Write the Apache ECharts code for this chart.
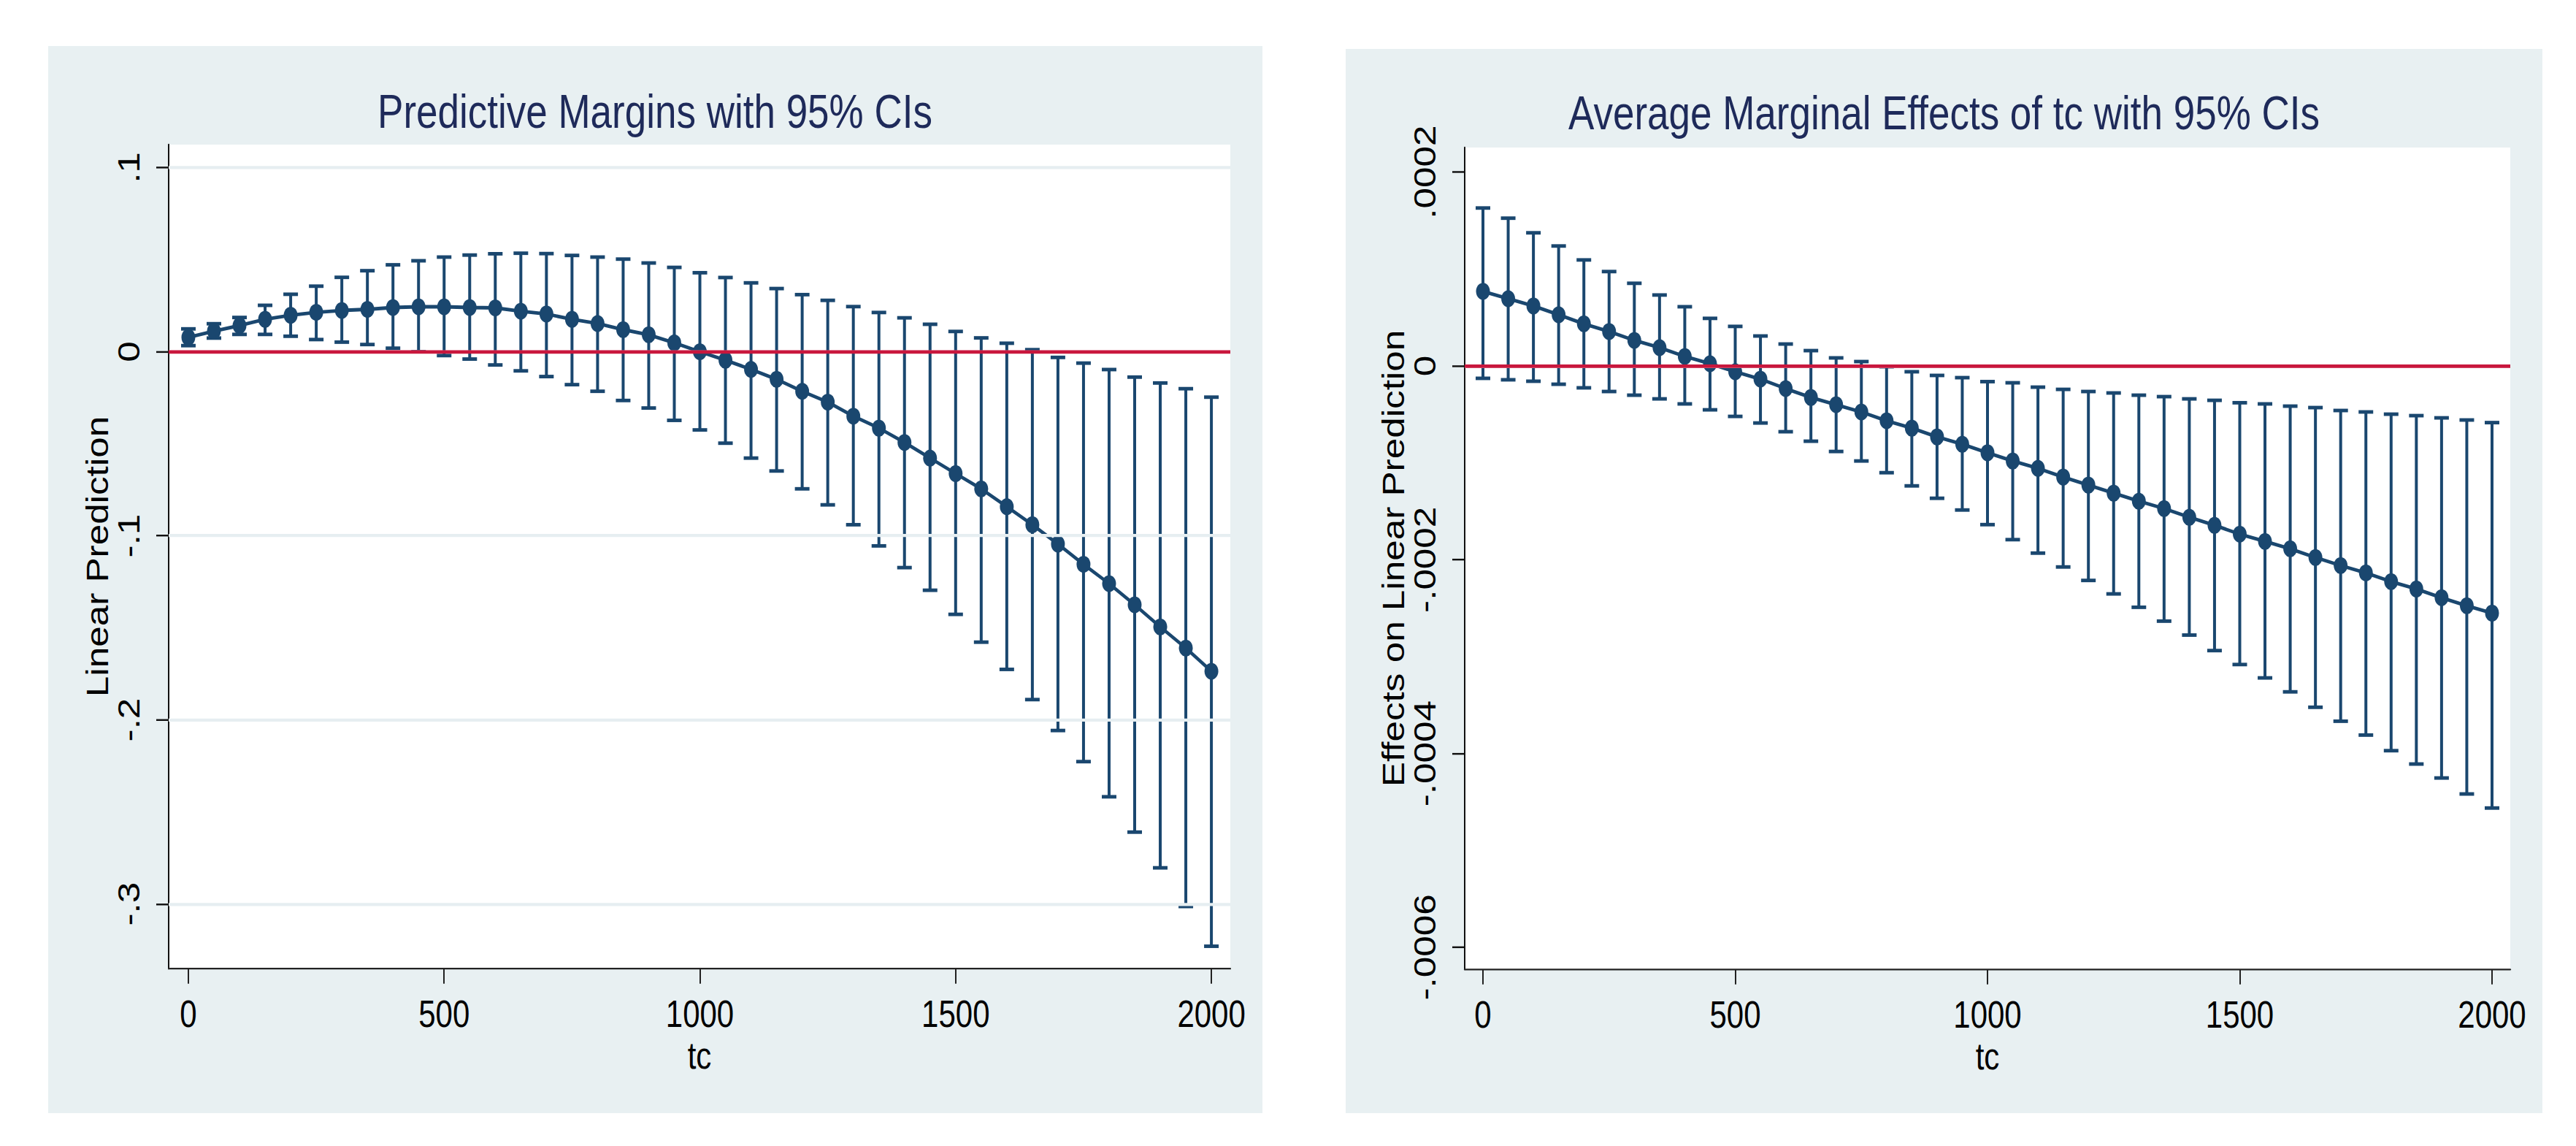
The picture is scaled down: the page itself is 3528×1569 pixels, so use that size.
<!DOCTYPE html>
<html>
<head>
<meta charset="utf-8">
<script src="https://cdn.jsdelivr.net/npm/echarts@6/dist/echarts.min.js"></script>
<style>
html,body{margin:0;padding:0;background:#ffffff;}
#wrap{width:3528px;height:1569px;overflow:hidden;position:relative;background:#ffffff;}
#chart{width:3528px;height:1286px;transform:scaleY(1.22);transform-origin:0 0;}
</style>
</head>
<body>
<div id="wrap"><div id="chart"></div></div>
<script>
// ---------------- data ----------------
const tc = [0, 50, 100, 150, 200, 250, 300, 350, 400, 450, 500, 550, 600, 650, 700, 750, 800, 850, 900, 950,
  1000, 1050, 1100, 1150, 1200, 1250, 1300, 1350, 1400, 1450, 1500, 1550, 1600, 1650, 1700, 1750, 1800, 1850, 1900, 1950, 2000];

// Panel 1: Predictive margins (linear prediction) with 95% CI
const pmEstimate = [0.0078, 0.0112, 0.0142, 0.0176, 0.0198, 0.0214, 0.0224, 0.0230, 0.0240, 0.0244,
  0.0244, 0.0240, 0.0238, 0.0220, 0.0205, 0.0176, 0.0153, 0.0120, 0.0092, 0.0048,
  0.0000, -0.0046, -0.0096, -0.0150, -0.0215, -0.0274, -0.0350, -0.0415, -0.0493, -0.0578,
  -0.0662, -0.0745, -0.0842, -0.0940, -0.1045, -0.1155, -0.1260, -0.1375, -0.1495, -0.1610, -0.1736];
const pmUpper = [0.0124, 0.0152, 0.0186, 0.0252, 0.0312, 0.0356, 0.0404, 0.0440, 0.0472, 0.0494,
  0.0514, 0.0525, 0.0532, 0.0535, 0.0533, 0.0523, 0.0514, 0.0503, 0.0482, 0.0458,
  0.0429, 0.0403, 0.0374, 0.0343, 0.0310, 0.0279, 0.0245, 0.0213, 0.0184, 0.0149,
  0.0110, 0.0075, 0.0046, 0.0011, -0.0031, -0.0062, -0.0097, -0.0138, -0.0170, -0.0201, -0.0247];
const pmLower = [0.0033, 0.0074, 0.0094, 0.0094, 0.0084, 0.0066, 0.0052, 0.0039, 0.0019, 0.0000,
  -0.0021, -0.0040, -0.0072, -0.0104, -0.0135, -0.0179, -0.0215, -0.0265, -0.0306, -0.0373,
  -0.0425, -0.0497, -0.0578, -0.0648, -0.0745, -0.0832, -0.0940, -0.1055, -0.1173, -0.1296,
  -0.1427, -0.1578, -0.1726, -0.1890, -0.2058, -0.2227, -0.2418, -0.2610, -0.2804, -0.3014, -0.3230];

// Panel 2: Average marginal effects of tc with 95% CI
const ameEstimate = [0.0000770, 0.0000694, 0.0000619, 0.0000528, 0.0000435, 0.0000355, 0.0000264, 0.0000189, 0.0000098, 0.0000023,
  -0.0000060, -0.0000136, -0.0000234, -0.0000325, -0.0000400, -0.0000475, -0.0000566, -0.0000642, -0.0000732, -0.0000808,
  -0.0000896, -0.0000981, -0.0001057, -0.0001147, -0.0001230, -0.0001313, -0.0001396, -0.0001472, -0.0001562, -0.0001645,
  -0.0001736, -0.0001811, -0.0001887, -0.0001977, -0.0002060, -0.0002136, -0.0002226, -0.0002302, -0.0002392, -0.0002475, -0.0002551];
const ameUpper = [0.0001630, 0.0001525, 0.0001374, 0.0001238, 0.0001094, 0.0000974, 0.0000853, 0.0000732, 0.0000611, 0.0000491,
  0.0000408, 0.0000309, 0.0000226, 0.0000158, 0.0000083, 0.0000045, -0.0000008, -0.0000060, -0.0000098, -0.0000121,
  -0.0000162, -0.0000174, -0.0000219, -0.0000242, -0.0000264, -0.0000279, -0.0000302, -0.0000317, -0.0000340, -0.0000355,
  -0.0000380, -0.0000392, -0.0000415, -0.0000430, -0.0000460, -0.0000475, -0.0000498, -0.0000513, -0.0000536, -0.0000558, -0.0000585];
const ameLower = [-0.0000128, -0.0000143, -0.0000158, -0.0000189, -0.0000226, -0.0000264, -0.0000302, -0.0000340, -0.0000392, -0.0000453,
  -0.0000521, -0.0000589, -0.0000679, -0.0000777, -0.0000883, -0.0000981, -0.0001102, -0.0001238, -0.0001366, -0.0001487,
  -0.0001638, -0.0001793, -0.0001932, -0.0002075, -0.0002214, -0.0002353, -0.0002491, -0.0002634, -0.0002778, -0.0002938,
  -0.0003082, -0.0003220, -0.0003364, -0.0003523, -0.0003667, -0.0003810, -0.0003971, -0.0004109, -0.0004253, -0.0004418, -0.0004563];

// Tick values and labels
const xTicks = [0, 500, 1000, 1500, 2000];
const xTickLabels = ['0', '500', '1000', '1500', '2000'];
const pmYTicks = [0.1, 0, -0.1, -0.2, -0.3];
const pmYTickLabels = ['.1', '0', '-.1', '-.2', '-.3'];
const ameYTicks = [0.0002, 0, -0.0002, -0.0004, -0.0006];
const ameYTickLabels = ['.0002', '0', '-.0002', '-.0004', '-.0006'];

// Texts
const titles = ['Predictive Margins with 95% CIs', 'Average Marginal Effects of tc with 95% CIs'];
const yNames = ['Linear Prediction', 'Effects on Linear Prediction'];
const xName = 'tc';

// ---------------- styling / layout ----------------
const K = 1.22; // vertical stretch of the whole picture (applied by CSS)
const sy = v => v / K;
const NAVY = '#1a476f';
const RED = '#c9173d';
const PANEL = '#e8f0f2';
const GRIDC = '#e6eef1';
const TITLEC = '#1e2a5a';
const FONT = '"Liberation Sans", Arial, Helvetica, sans-serif';

function lookupFormatter(ticks, labels) {
  return function (v) {
    for (let i = 0; i < ticks.length; i++) {
      if (Math.abs(ticks[i] - v) < 1e-12) return labels[i];
    }
    return '';
  };
}

function zip(a, b) { return a.map((v, i) => [v, b[i]]); }
function zip3(a, b, c) { return a.map((v, i) => [v, b[i], c[i]]); }

function xAxisOpt(gi, min, max) {
  return {
    type: 'value', gridIndex: gi, min: min, max: max,
    name: xName, nameLocation: 'middle', nameGap: 73,
    nameTextStyle: { fontSize: 42, color: '#000', fontFamily: FONT },
    axisLine: { show: true, onZero: false, lineStyle: { color: '#222', width: 2 } },
    axisTick: { show: true, length: 17, customValues: xTicks, lineStyle: { color: '#222', width: 2 } },
    axisLabel: { show: true, customValues: xTicks, formatter: lookupFormatter(xTicks, xTickLabels),
      fontSize: 42, color: '#000', margin: 30, fontFamily: FONT },
    splitLine: { show: false }
  };
}
function yAxisOpt(gi, min, max, ticks, labels, name) {
  return {
    type: 'value', gridIndex: gi, min: min, max: max,
    name: name, nameLocation: 'middle', nameGap: 75, nameRotate: 90,
    nameTextStyle: { fontSize: 42, color: '#000', fontFamily: FONT },
    axisLine: { show: true, onZero: false, lineStyle: { color: '#111', width: 2 } },
    axisTick: { show: true, length: 17, customValues: ticks, lineStyle: { color: '#111', width: 2 } },
    axisLabel: { show: true, rotate: 90, customValues: ticks, formatter: lookupFormatter(ticks, labels),
      fontSize: 42, color: '#000', margin: 33, fontFamily: FONT },
    splitLine: { show: false }
  };
}

function refSeries(idx, est, ticks) {
  const lines = ticks.map(t => ({ yAxis: t, lineStyle: { color: GRIDC, width: 3.5, type: 'solid' } }));
  lines.push({ yAxis: 0, lineStyle: { color: RED, width: 4, type: 'solid' } });
  return {
    type: 'scatter', xAxisIndex: idx, yAxisIndex: idx, z: 1, silent: true,
    data: zip(tc, est), symbolSize: 0, itemStyle: { opacity: 0 },
    markLine: { silent: true, symbol: ['none', 'none'], label: { show: false }, animation: false, data: lines }
  };
}

function errSeries(idx, lo, hi) {
  return {
    type: 'custom', xAxisIndex: idx, yAxisIndex: idx, z: 3, silent: true,
    data: zip3(tc, lo, hi),
    encode: { x: 0, y: [1, 2] },
    renderItem: function (params, api) {
      const x = api.value(0);
      const pLo = api.coord([x, api.value(1)]);
      const pHi = api.coord([x, api.value(2)]);
      const hw = 10;
      const st = { stroke: NAVY, lineWidth: 4, fill: null };
      return {
        type: 'group',
        children: [
          { type: 'line', shape: { x1: pHi[0], y1: pHi[1], x2: pLo[0], y2: pLo[1] }, style: st },
          { type: 'line', shape: { x1: pHi[0] - hw, y1: pHi[1], x2: pHi[0] + hw, y2: pHi[1] }, style: st },
          { type: 'line', shape: { x1: pLo[0] - hw, y1: pLo[1], x2: pLo[0] + hw, y2: pLo[1] }, style: st }
        ]
      };
    }
  };
}

function estSeries(idx, est) {
  return {
    type: 'line', xAxisIndex: idx, yAxisIndex: idx, z: 4, silent: true,
    data: zip(tc, est),
    symbol: 'circle', symbolSize: 19, showSymbol: true,
    itemStyle: { color: NAVY },
    lineStyle: { color: NAVY, width: 4 }
  };
}

const chart = echarts.init(document.getElementById('chart'), null, { renderer: 'svg' });
chart.setOption({
  animation: false,
  backgroundColor: '#ffffff',
  graphic: [
    { type: 'rect', z: -100, shape: { x: 66, y: sy(63), width: 1663, height: sy(1461) }, style: { fill: PANEL } },
    { type: 'rect', z: -100, shape: { x: 1843, y: sy(67), width: 1639, height: sy(1457) }, style: { fill: PANEL } },
    { type: 'text', z: 10, x: 897, y: sy(152.5),
      style: { text: titles[0], fontSize: 53, fill: TITLEC, fontFamily: FONT, align: 'center', verticalAlign: 'middle' } },
    { type: 'text', z: 10, x: 2662.5, y: sy(154.5),
      style: { text: titles[1], fontSize: 53, fill: TITLEC, fontFamily: FONT, align: 'center', verticalAlign: 'middle' } }
  ],
  grid: [
    { left: 231, top: sy(198), width: 1454, height: sy(1128), show: true, backgroundColor: '#ffffff', borderWidth: 0 },
    { left: 2006, top: sy(202), width: 1432, height: sy(1125), show: true, backgroundColor: '#ffffff', borderWidth: 0 }
  ],
  xAxis: [
    xAxisOpt(0, -38.5, 2037),
    xAxisOpt(1, -36.2, 2036.2)
  ],
  yAxis: [
    yAxisOpt(0, -0.3351, 0.1125, pmYTicks, pmYTickLabels, yNames[0]),
    yAxisOpt(1, -0.0006227, 0.0002254, ameYTicks, ameYTickLabels, yNames[1])
  ],
  series: [
    refSeries(0, pmEstimate, pmYTicks),
    errSeries(0, pmLower, pmUpper),
    estSeries(0, pmEstimate),
    refSeries(1, ameEstimate, ameYTicks),
    errSeries(1, ameLower, ameUpper),
    estSeries(1, ameEstimate)
  ]
});
</script>
</body>
</html>
